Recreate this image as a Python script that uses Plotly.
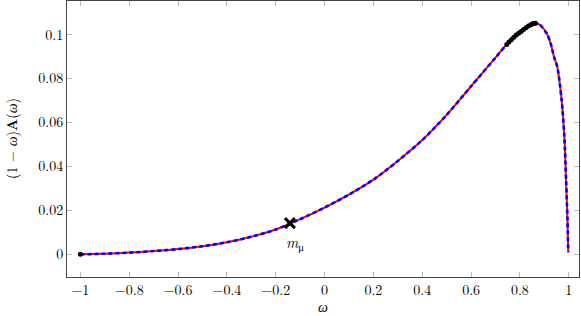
import plotly.graph_objects as go

omega = [-1.0, -0.9, -0.8, -0.7, -0.6, -0.5, -0.4, -0.3, -0.2, -0.1, 0.0,
         0.1, 0.2, 0.3, 0.4, 0.5, 0.6, 0.7, 0.75, 0.8, 0.85, 0.862, 0.88, 0.91,
         0.926, 0.94, 0.953, 0.971, 0.982, 0.989, 0.995, 0.998]
value = [0.0, 0.0003, 0.0008, 0.0015, 0.0024, 0.0037, 0.0055, 0.0080, 0.0113, 0.0160,
         0.0213, 0.0272, 0.0340, 0.0425, 0.0520, 0.0635, 0.0765, 0.0895, 0.0960,
         0.1010, 0.1047, 0.1052, 0.1046, 0.1005, 0.0959, 0.0898, 0.0853, 0.0701,
         0.0535, 0.0338, 0.0150, 0.0010]

sample_omega = [-1.0, 0.746, 0.755, 0.765, 0.775, 0.785, 0.795, 0.805, 0.815, 0.825,
                0.835, 0.845, 0.852, 0.858, 0.864]
sample_value = [0.0, 0.0955, 0.0966, 0.0977, 0.0988, 0.0998, 0.1006, 0.1014, 0.1023,
                0.1031, 0.1039, 0.1045, 0.1049, 0.1051, 0.1052]

m_mu = [-0.142]
m_mu_value = [0.0142]

x_ticks = [-1, -0.8, -0.6, -0.4, -0.2, 0, 0.2, 0.4, 0.6, 0.8, 1]
x_tick_text = ["−1", "−0.8", "−0.6", "−0.4", "−0.2", "0", "0.2", "0.4", "0.6", "0.8", "1"]
y_ticks = [0, 0.02, 0.04, 0.06, 0.08, 0.1]
y_tick_text = ["0", "0.02", "0.04", "0.06", "0.08", "0.1"]

FONT = "Latin Modern Roman, CMU Serif, Liberation Serif, serif"

fig = go.Figure()
fig.add_trace(go.Scatter(x=omega, y=value, mode="lines",
                         line=dict(color="#ff0000", width=2, shape="spline", smoothing=0.8),
                         showlegend=False))
fig.add_trace(go.Scatter(x=omega, y=value, mode="lines",
                         line=dict(color="#0000ff", width=2.6, dash="4px,3px", shape="spline", smoothing=0.8),
                         showlegend=False))
fig.add_trace(go.Scatter(x=sample_omega, y=sample_value, mode="markers",
                         marker=dict(color="black", size=5),
                         showlegend=False))
fig.add_trace(go.Scatter(x=m_mu, y=m_mu_value, mode="markers",
                         marker=dict(symbol="x-thin", color="black", size=10,
                                     line=dict(width=3, color="black")),
                         showlegend=False))
fig.add_annotation(x=-0.121, y=0.0056, text="<i>m</i><sub>μ</sub>", showarrow=False,
                   font=dict(family=FONT, size=15, color="black"))

# axis titles
fig.add_annotation(x=0.5, y=0, xref="paper", yref="paper", yshift=-29, yanchor="middle",
                   text="<i>ω</i>", showarrow=False, height=12, borderpad=0,
                   font=dict(family=FONT, size=14, color="black"))
fig.add_annotation(x=0, y=0.5, xref="paper", yref="paper", xshift=-56, xanchor="center",
                   textangle=-90, text="(1 − <i>ω</i>)<b>A</b>(<i>ω</i>)", showarrow=False,
                   font=dict(family=FONT, size=14, color="black"))

axis_common = dict(showgrid=False, zeroline=False, showline=True, linecolor="#444444",
                   linewidth=1, mirror="ticks", ticks="inside", ticklen=5,
                   tickcolor="#bbbbbb", tickwidth=1, automargin=False,
                   tickfont=dict(family=FONT, size=14, color="black"))

fig.update_xaxes(range=[-1.0549, 1.042], tickvals=x_ticks, ticktext=x_tick_text,
                 **axis_common)
fig.update_yaxes(range=[-0.0103, 0.1153], tickvals=y_ticks, ticktext=y_tick_text,
                 **axis_common)

fig.update_layout(width=581, height=316, margin=dict(l=67, r=2, t=1, b=39),
                  plot_bgcolor="white", paper_bgcolor="white")

fig.write_html("out.html", config={"displayModeBar": False},
               post_script="document.body.style.margin='0';document.body.style.overflow='hidden';")
